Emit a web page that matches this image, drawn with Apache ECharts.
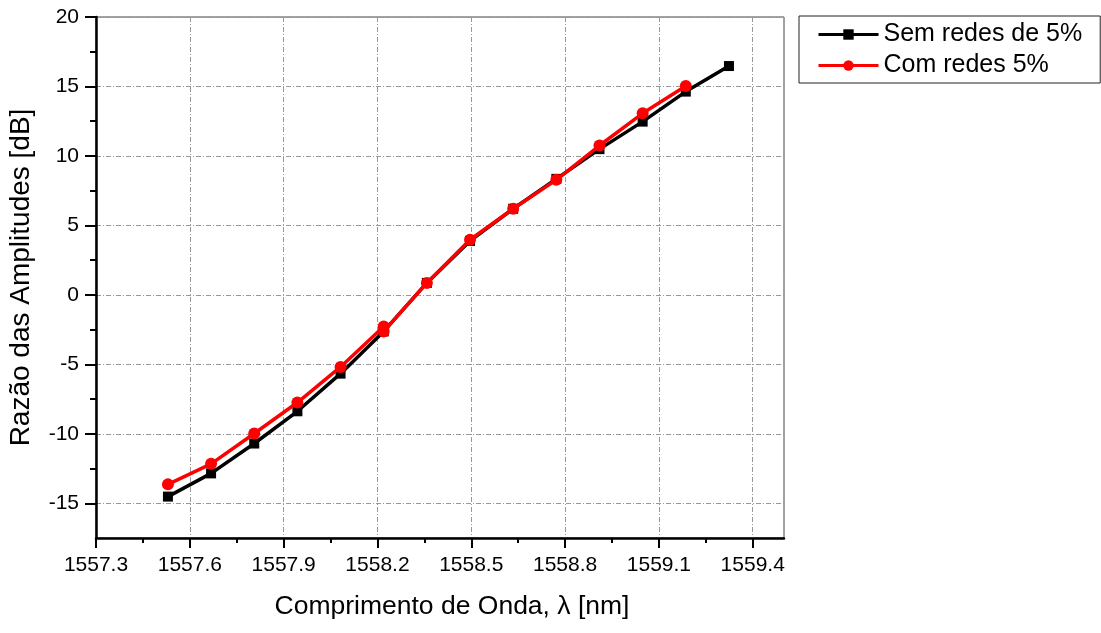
<!DOCTYPE html>
<html>
<head>
<meta charset="utf-8">
<script src="https://cdn.jsdelivr.net/npm/echarts@6/dist/echarts.min.js"></script>
<style>
  html, body { margin: 0; padding: 0; background: #fff; }
  #chart { width: 1101px; height: 633px; }
</style>
</head>
<body>
<div id="chart"></div>
<script>
// Wavelength readings (nm) and amplitude ratios (dB)
const semWavelength = [1557.53, 1557.668, 1557.806, 1557.944, 1558.082, 1558.22, 1558.358,
                       1558.496, 1558.634, 1558.772, 1558.91, 1559.048, 1559.186, 1559.324];
const semRedes = [-14.52, -12.85, -10.70, -8.38, -5.67, -2.63, 0.86,
                  3.88, 6.20, 8.35, 10.49, 12.47, 14.63, 16.47];

const comWavelength = [1557.53, 1557.668, 1557.806, 1557.944, 1558.082, 1558.22, 1558.22,
                       1558.358, 1558.496, 1558.634, 1558.772, 1558.91, 1559.048, 1559.186];
const comRedes = [-13.64, -12.16, -9.98, -7.75, -5.19, -2.28, -2.63,
                  0.86, 3.97, 6.20, 8.28, 10.75, 13.07, 15.04];

const seriesNames = ['Sem redes de 5%', 'Com redes 5%'];

// Axis ticks
const xTicks = [1557.3, 1557.6, 1557.9, 1558.2, 1558.5, 1558.8, 1559.1, 1559.4];
const yTicks = [-15, -10, -5, 0, 5, 10, 15, 20];

const xTitle = 'Comprimento de Onda, λ [nm]';
const yTitle = 'Razão das Amplitudes [dB]';

// minor tick positions halfway between the labelled ticks
function midpoints(arr, lo, hi) {
  const out = [];
  const step = arr[1] - arr[0];
  for (let v = arr[0] - step / 2; v > lo; v -= step) out.push(+v.toFixed(4));
  for (let i = 0; i < arr.length; i++) {
    const m = +(arr[i] + step / 2).toFixed(4);
    if (m < hi) out.push(m);
  }
  return out;
}

const X_MIN = 1557.3, X_MAX = 1559.5;
const Y_MIN = -17.5, Y_MAX = 20;

const FONT = '"Liberation Sans", Arial, sans-serif';

const pair = (xs, ys) => xs.map((x, i) => [x, ys[i]]);

const chart = echarts.init(document.getElementById('chart'), null, { renderer: 'canvas' });

const gridLine = { show: true, lineStyle: { color: '#999999', width: 1, type: [5, 2, 1, 2] } };

chart.setOption({
  animation: false,
  backgroundColor: '#ffffff',
  grid: {
    left: 96, right: 317, top: 17, bottom: 95,
    show: true, borderColor: '#444', borderWidth: 1,
    containLabel: false, outerBoundsMode: 'none'
  },
  legend: {
    left: 799, top: 16,
    orient: 'vertical',
    data: seriesNames,
    borderColor: '#222', borderWidth: 1,
    padding: [6, 18, 5, 18],
    itemGap: 6,
    itemWidth: 60, itemHeight: 13,
    lineStyle: { width: 3 },
    textStyle: { fontFamily: FONT, fontSize: 25, color: '#000', lineHeight: 24 }
  },
  xAxis: [{
    type: 'value',
    min: X_MIN, max: X_MAX, interval: 0.3,
    name: xTitle, nameLocation: 'middle', nameGap: 55,
    nameTextStyle: { fontFamily: FONT, fontSize: 26.5, color: '#000', padding: [0, 0, 0, 24] },
    axisLine: { show: true, onZero: false, lineStyle: { color: '#000', width: 2.5 } },
    axisTick: { show: true, inside: false, length: 10, customValues: xTicks, lineStyle: { color: '#000', width: 2 } },
    axisLabel: { customValues: xTicks, margin: 17, fontFamily: FONT, fontSize: 21, color: '#000',
                 formatter: v => v.toFixed(1) },
    splitLine: gridLine
  }, {
    type: 'value', gridIndex: 0, position: 'bottom',
    min: X_MIN, max: X_MAX,
    axisLine: { show: false, onZero: false },
    axisTick: { show: true, length: 5, customValues: midpoints(xTicks, X_MIN, X_MAX), lineStyle: { color: '#000', width: 2 } },
    axisLabel: { show: false },
    splitLine: { show: false }
  }],
  yAxis: [{
    type: 'value',
    min: Y_MIN, max: Y_MAX,
    name: yTitle, nameLocation: 'middle', nameGap: 61,
    nameTextStyle: { fontFamily: FONT, fontSize: 28, color: '#000' },
    axisLine: { show: true, onZero: false, lineStyle: { color: '#000', width: 2.5 } },
    axisTick: { show: true, inside: false, length: 11, customValues: yTicks, lineStyle: { color: '#000', width: 2 } },
    axisLabel: { customValues: yTicks, margin: 17, fontFamily: FONT, fontSize: 21, color: '#000' },
    splitLine: gridLine
  }, {
    type: 'value', gridIndex: 0, position: 'left',
    min: Y_MIN, max: Y_MAX,
    axisLine: { show: false, onZero: false },
    axisTick: { show: true, length: 6, customValues: midpoints(yTicks, Y_MIN, Y_MAX), lineStyle: { color: '#000', width: 2 } },
    axisLabel: { show: false },
    splitLine: { show: false }
  }],
  series: [{
    name: seriesNames[0],
    type: 'line',
    data: pair(semWavelength, semRedes),
    symbol: 'rect', symbolSize: 10,
    lineStyle: { color: '#000', width: 3.5 },
    itemStyle: { color: '#000' },
    z: 2
  }, {
    name: seriesNames[1],
    type: 'line',
    data: pair(comWavelength, comRedes),
    symbol: 'circle', symbolSize: 12,
    lineStyle: { color: '#ff0000', width: 3.5 },
    itemStyle: { color: '#ff0000' },
    z: 3
  }]
});
</script>
</body>
</html>
